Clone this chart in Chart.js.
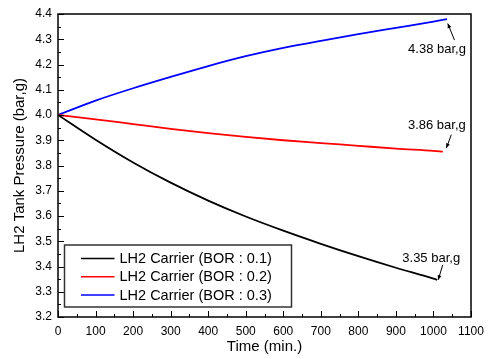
<!DOCTYPE html>
<html>
<head>
<meta charset="utf-8">
<script src="https://cdn.jsdelivr.net/npm/chart.js@4.4.1/dist/chart.umd.min.js"></script>
<style>
  html, body { margin: 0; padding: 0; background: #fff; }
  #wrap { width: 491px; height: 359px; }
</style>
</head>
<body>
<div id="wrap"><canvas id="chart" width="491" height="359"></canvas></div>
<script>
// time axis (min.) and pressure readings (bar,g)
const timeMin = [0, 100, 200, 300, 400, 500, 600, 700, 800, 900, 1000];
const endTime = [1010, 1025, 1036];

const seriesLabels = ['LH2 Carrier (BOR : 0.1)', 'LH2 Carrier (BOR : 0.2)', 'LH2 Carrier (BOR : 0.3)'];
const bor01 = [4.000, 3.902, 3.812, 3.732, 3.661, 3.598, 3.542, 3.490, 3.441, 3.395, 3.352, 3.347];
const bor02 = [4.000, 3.983, 3.964, 3.945, 3.928, 3.913, 3.900, 3.889, 3.878, 3.867, 3.858, 3.855];
const bor03 = [4.000, 4.057, 4.106, 4.151, 4.194, 4.233, 4.266, 4.294, 4.320, 4.345, 4.370, 4.380];

const endLabels = ['3.35 bar,g', '3.86 bar,g', '4.38 bar,g'];

const xTicks = [0, 100, 200, 300, 400, 500, 600, 700, 800, 900, 1000, 1100];
const yTicks = [3.2, 3.3, 3.4, 3.5, 3.6, 3.7, 3.8, 3.9, 4.0, 4.1, 4.2, 4.3, 4.4];

const FONT = 'Arial, "Liberation Sans", Helvetica, sans-serif';
const colors = ['#000000', '#ff0000', '#0000ff'];

function toPoints(values, lastT) {
    const xs = timeMin.concat([lastT]);
    return values.map((v, i) => ({x: xs[i], y: v}));
}

const allSeries = [bor01, bor02, bor03];

// annotation placement relative to the series end point (text centre, arrow tail, arrow tip)
const noteOffsets = [
    {tx: -6, ty: -21, ax: 5.5, ay: -15, bx: 1, by: 0},
    {tx: -6, ty: -26, ax: 8.5, ay: -17, bx: 3.5, by: -3.5},
    {tx: -10, ty: 30, ax: 7.5, ay: 21, bx: 0.8, by: 4.5}
];

const framePlugin = {
    id: 'frame',
    afterDatasetsDraw(chart) {
        const ctx = chart.ctx;
        const a = chart.chartArea;
        const xs = chart.scales.x;
        const ys = chart.scales.y;
        ctx.save();
        ctx.strokeStyle = '#000';
        ctx.lineWidth = 1.5;
        ctx.strokeRect(a.left, a.top, a.right - a.left, a.bottom - a.top);

        // inward tick marks, major + minor
        ctx.lineWidth = 1;
        ctx.beginPath();
        for (let t = 0; t <= 1100; t += 50) {
            const px = Math.round(xs.getPixelForValue(t)) + 0.5;
            const len = (t % 100 === 0) ? 6 : 3;
            ctx.moveTo(px, a.bottom);
            ctx.lineTo(px, a.bottom - len);
        }
        for (let k = 0; k <= 24; k++) {
            const v = 3.2 + k * 0.05;
            const py = Math.round(ys.getPixelForValue(v)) + 0.5;
            const len = (k % 2 === 0) ? 6 : 3;
            ctx.moveTo(a.left, py);
            ctx.lineTo(a.left + len, py);
        }
        ctx.stroke();

        // end-value notes with arrows
        ctx.font = '13px ' + FONT;
        ctx.fillStyle = '#000';
        ctx.textAlign = 'center';
        ctx.textBaseline = 'middle';
        chart.data.datasets.forEach((ds, i) => {
            const last = ds.data[ds.data.length - 1];
            const ex = xs.getPixelForValue(last.x);
            const ey = ys.getPixelForValue(last.y);
            const o = noteOffsets[i];
            ctx.fillText(endLabels[i], ex + o.tx, ey + o.ty);
            const x1 = ex + o.ax, y1 = ey + o.ay;
            const x2 = ex + o.bx, y2 = ey + o.by;
            ctx.beginPath();
            ctx.lineWidth = 1;
            ctx.moveTo(x1, y1);
            ctx.lineTo(x2, y2);
            ctx.stroke();
            const ang = Math.atan2(y2 - y1, x2 - x1);
            ctx.beginPath();
            ctx.moveTo(x2, y2);
            ctx.lineTo(x2 - 5 * Math.cos(ang - 0.4), y2 - 5 * Math.sin(ang - 0.4));
            ctx.lineTo(x2 - 5 * Math.cos(ang + 0.4), y2 - 5 * Math.sin(ang + 0.4));
            ctx.closePath();
            ctx.fill();
        });

        // legend box, lower left inside the plot
        const bx = a.left + 6.5, by = a.bottom - 72, bw = 227, bh = 62;
        ctx.fillStyle = '#fff';
        ctx.fillRect(bx, by, bw, bh);
        ctx.strokeStyle = '#333';
        ctx.lineWidth = 1.5;
        ctx.strokeRect(bx, by, bw, bh);
        ctx.font = '14.5px ' + FONT;
        ctx.textAlign = 'left';
        chart.data.datasets.forEach((ds, i) => {
            const ry = by + 13.5 + i * 18.3;
            ctx.strokeStyle = ds.borderColor;
            ctx.lineWidth = 1.5;
            ctx.beginPath();
            ctx.moveTo(bx + 16.5, ry);
            ctx.lineTo(bx + 50, ry);
            ctx.stroke();
            ctx.fillStyle = '#000';
            ctx.fillText(ds.label, bx + 55, ry + 0.5);
        });
        ctx.restore();
    }
};

const datasets = allSeries.map((vals, i) => ({
    label: seriesLabels[i],
    data: toPoints(vals, endTime[i]),
    borderColor: colors[i],
    borderWidth: 1.8,
    pointRadius: 0,
    fill: false,
    cubicInterpolationMode: 'monotone'
}));

new Chart(document.getElementById('chart'), {
    type: 'line',
    data: {datasets: datasets},
    options: {
        responsive: false,
        animation: false,
        layout: {padding: {left: 0, top: 14, right: 20, bottom: 0}},
        plugins: {legend: {display: false}, tooltip: {enabled: false}},
        scales: {
            x: {
                type: 'linear',
                min: 0, max: 1100,
                afterBuildTicks: s => { s.ticks = xTicks.map(v => ({value: v})); },
                afterFit: s => { s.height = 42; },
                grid: {display: false, drawTicks: false},
                border: {display: false},
                ticks: {color: '#000', font: {family: FONT, size: 12}, padding: 7, maxRotation: 0,
                        callback: v => String(v)},
                title: {display: true, text: 'Time (min.)', color: '#000',
                        font: {family: FONT, size: 15}, padding: {top: 0, bottom: 3}}
            },
            y: {
                min: 3.2, max: 4.4,
                afterBuildTicks: s => { s.ticks = yTicks.map(v => ({value: v})); },
                afterFit: s => { s.width = 58; },
                grid: {display: false, drawTicks: false},
                border: {display: false},
                ticks: {color: '#000', font: {family: FONT, size: 12}, padding: 6,
                        callback: v => Number(v).toFixed(1)},
                title: {display: true, text: 'LH2 Tank Pressure (bar,g)', color: '#000',
                        font: {family: FONT, size: 15}, padding: {top: 11, bottom: 0}}
            }
        }
    },
    plugins: [framePlugin]
});
</script>
</body>
</html>
